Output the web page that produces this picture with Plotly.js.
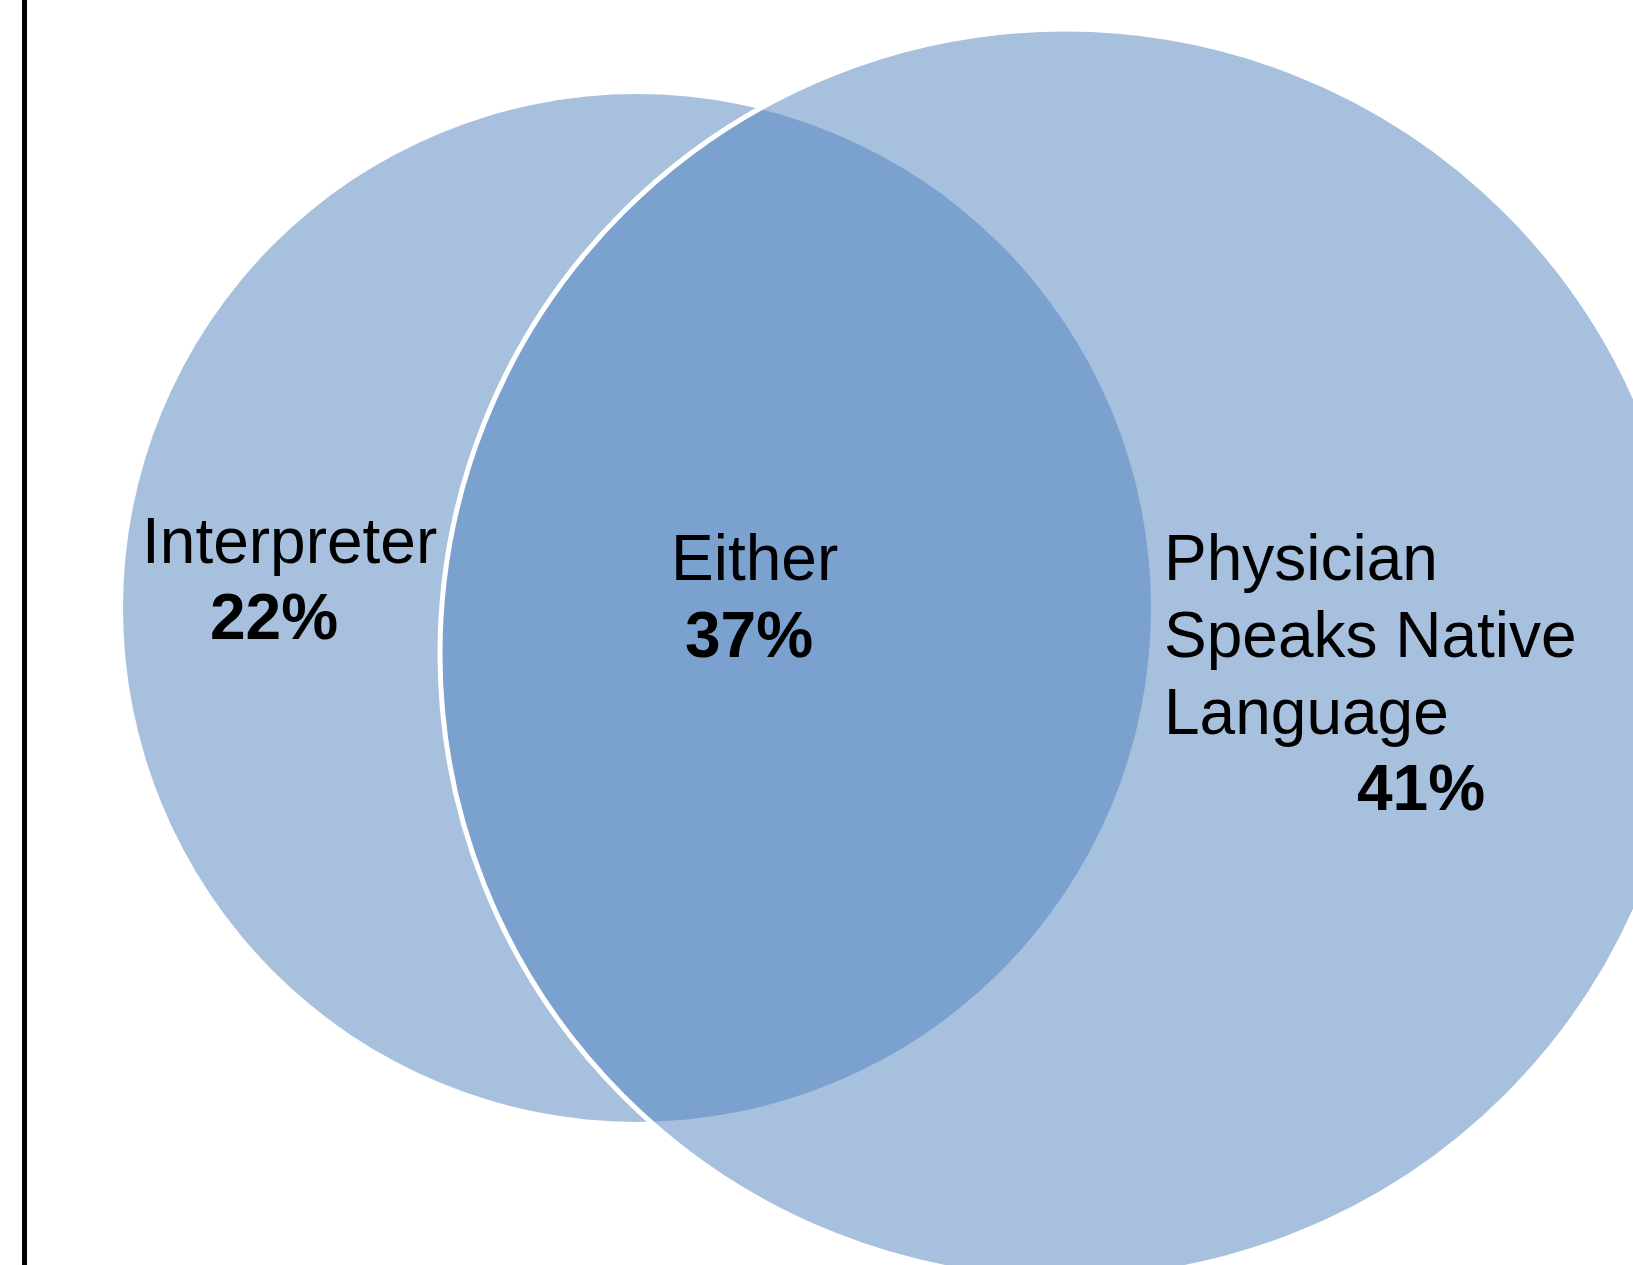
<!DOCTYPE html>
<html>
<head>
<meta charset="utf-8">
<script src="https://cdn.plot.ly/plotly-3.0.1.min.js"></script>
<style>
  html, body { margin: 0; padding: 0; background: #ffffff; }
  #chart { width: 1633px; height: 1265px; }
</style>
</head>
<body>
<div id="chart"></div>
<script>
// ---- Data ----
const regionLines  = [["Interpreter"], ["Either"], ["Physician", "Speaks Native", "Language"]];
const regionShares = [22, 37, 41];

// ---- Geometry / style (pixel coordinates of the canvas) ----
const W = 1633, H = 1265;
const circleLeft  = { cx: 637,  cy: 608, r: 514 };
const circleRight = { cx: 1065, cy: 654, r: 625 };
const fill = "rgba(79,129,189,0.5)";
const fontFamily = "Liberation Sans, Arial, Helvetica, sans-serif";
const fontSize = 64;
const lineGap = 77;

// label placement: [x, firstBaseline, anchor] per region, and share position
const labelPos = [
  { x: 289,  base: 563, anchor: "center", sx: 274,  sBase: 639, sAnchor: "center" },
  { x: 754,  base: 580, anchor: "center", sx: 749,  sBase: 657, sAnchor: "center" },
  { x: 1162, base: 580, anchor: "left",   sx: 1421, sBase: 810, sAnchor: "center" }
];
const baseToMid = 22;

const shapes = [
  { type: "circle", xref: "x", yref: "y",
    x0: circleLeft.cx - circleLeft.r, x1: circleLeft.cx + circleLeft.r,
    y0: circleLeft.cy - circleLeft.r, y1: circleLeft.cy + circleLeft.r,
    fillcolor: fill, line: { width: 0 }, layer: "above" },
  { type: "circle", xref: "x", yref: "y",
    x0: circleRight.cx - circleRight.r, x1: circleRight.cx + circleRight.r,
    y0: circleRight.cy - circleRight.r, y1: circleRight.cy + circleRight.r,
    fillcolor: fill, line: { color: "#ffffff", width: 5 }, layer: "above" },
  { type: "line", xref: "x", yref: "y", x0: 24.5, x1: 24.5, y0: 0, y1: H,
    line: { color: "#000000", width: 5 }, layer: "above" }
];

const annotations = [];
regionLines.forEach((lines, i) => {
  const p = labelPos[i];
  lines.forEach((t, j) => {
    annotations.push({
      xref: "x", yref: "y", x: p.x, y: p.base + j * lineGap - baseToMid,
      xanchor: p.anchor, yanchor: "middle", showarrow: false, text: t,
      font: { family: fontFamily, size: fontSize, color: "#000000" }
    });
  });
  annotations.push({
    xref: "x", yref: "y", x: p.sx, y: p.sBase - baseToMid,
    xanchor: p.sAnchor, yanchor: "middle", showarrow: false,
    text: "<b>" + regionShares[i] + "%</b>",
    font: { family: fontFamily, size: fontSize, color: "#000000" }
  });
});

const layout = {
  width: W, height: H,
  margin: { l: 0, r: 0, t: 0, b: 0, pad: 0 },
  paper_bgcolor: "#ffffff", plot_bgcolor: "#ffffff",
  showlegend: false,
  xaxis: { range: [0, W], visible: false, fixedrange: true },
  yaxis: { range: [H, 0], visible: false, fixedrange: true },
  shapes: shapes,
  annotations: annotations
};

Plotly.newPlot("chart", [], layout, { staticPlot: true, displayModeBar: false });
</script>
</body>
</html>
